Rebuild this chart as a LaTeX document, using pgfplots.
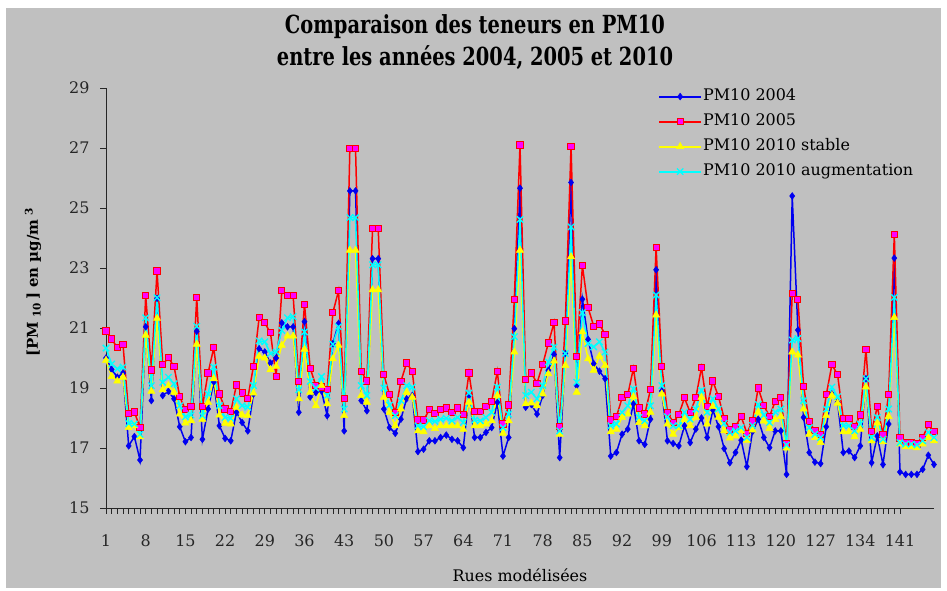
\documentclass[border=0pt]{standalone}
\usepackage{pgfplots}
\pgfplotsset{compat=1.18}
\usepackage{pgfplotstable}
\usepackage{fontspec}
\setmainfont{DejaVu Serif}
\newfontfamily\titlefont[FakeStretch=0.78]{DejaVu Serif}
\definecolor{bgc}{RGB}{192,192,192}
\definecolor{cb}{RGB}{0,0,240}
\definecolor{cr}{RGB}{255,0,0}
\definecolor{cm}{RGB}{255,0,255}
\definecolor{cy}{RGB}{255,255,0}
\definecolor{cc}{RGB}{0,255,255}
\pgfplotstableread{
i b r y c
1 20.0 20.9 19.92 20.33
2 19.62 20.63 19.38 19.8
3 19.36 20.34 19.23 19.64
4 19.5 20.45 19.36 19.7
5 17.07 18.15 17.68 17.82
6 17.38 18.2 17.74 17.8
7 16.6 17.68 17.37 17.46
8 21.04 22.08 20.76 21.34
9 18.58 19.6 18.89 19.08
10 21.99 22.9 21.32 22.01
11 18.75 19.78 18.94 19.19
12 18.89 20.01 19.08 19.36
13 18.64 19.72 18.86 19.14
14 17.71 18.71 18.13 18.41
15 17.21 18.27 17.83 18.04
16 17.35 18.38 17.91 18.1
17 20.89 22.01 20.46 21.06
18 17.29 18.38 17.96 18.08
19 18.3 19.5 18.52 18.8
20 19.2 20.34 19.31 19.7
21 17.74 18.8 18.1 18.41
22 17.32 18.3 17.82 18.02
23 17.24 18.21 17.8 17.99
24 18.19 19.1 18.36 18.64
25 17.85 18.83 18.1 18.41
26 17.57 18.66 18.08 18.36
27 18.8 19.72 18.83 19.08
28 20.31 21.34 20.06 20.57
29 20.2 21.17 20.0 20.54
30 19.83 20.84 19.61 20.15
31 20.0 19.38 19.72 20.2
32 21.17 22.24 20.42 20.92
33 21.04 22.08 20.73 21.34
34 21.04 22.08 20.73 21.38
35 18.19 19.22 18.64 18.94
36 21.21 21.79 20.29 20.87
37 18.7 19.66 18.86 19.22
38 18.85 19.08 18.41 19.0
39 18.9 19.03 19.08 19.38
40 18.08 18.94 18.47 18.75
41 20.48 21.51 19.97 20.46
42 21.15 22.24 20.42 21.04
43 17.57 18.66 18.08 18.3
44 25.57 26.99 23.59 24.68
45 25.57 26.99 23.59 24.68
46 18.58 19.56 18.75 19.08
47 18.24 19.23 18.52 18.75
48 23.31 24.31 22.27 23.11
49 23.31 24.31 22.27 23.11
50 18.3 19.44 18.69 19.0
51 17.68 18.77 18.19 18.43
52 17.49 18.19 17.74 18.08
53 17.96 19.22 18.3 18.58
54 18.64 19.83 18.86 19.08
55 18.75 19.56 18.69 19.03
56 16.88 17.93 17.57 17.74
57 16.96 17.93 17.54 17.71
58 17.24 18.27 17.74 17.91
59 17.24 18.15 17.65 17.89
60 17.35 18.27 17.74 17.96
61 17.43 18.33 17.74 17.99
62 17.29 18.19 17.74 17.91
63 17.24 18.33 17.74 18.02
64 17.01 18.11 17.62 17.85
65 18.75 19.5 18.52 18.83
66 17.35 18.21 17.74 17.93
67 17.35 18.21 17.74 17.91
68 17.52 18.38 17.8 18.02
69 17.68 18.55 17.91 18.19
70 18.52 19.55 18.75 19.03
71 16.73 17.8 17.49 17.68
72 17.35 18.43 17.91 18.13
73 20.98 21.96 20.2 20.71
74 25.66 27.1 23.59 24.62
75 18.36 19.28 18.47 18.75
76 18.45 19.5 18.5 18.86
77 18.13 19.16 18.41 18.64
78 18.75 19.78 18.8 19.08
79 19.59 20.5 19.47 19.87
80 20.12 21.17 19.9 20.37
81 16.68 17.71 17.46 17.57
82 20.15 21.23 19.75 20.15
83 25.85 27.05 23.37 24.37
84 19.08 20.06 18.86 19.19
85 21.96 23.08 20.87 21.51
86 20.62 21.68 19.97 20.48
87 19.81 21.06 19.59 20.37
88 19.56 21.13 20.06 20.54
89 19.31 20.79 19.75 20.2
90 16.73 17.93 17.54 17.74
91 16.85 18.04 17.62 17.8
92 17.46 18.67 18.02 18.19
93 17.63 18.77 18.13 18.41
94 18.47 19.66 18.71 18.97
95 17.24 18.33 17.85 18.02
96 17.12 18.13 17.74 17.91
97 17.96 18.94 18.19 18.41
98 22.94 23.69 21.43 22.1
99 18.9 19.72 18.8 19.08
100 17.24 18.19 17.8 18.04
101 17.15 17.85 17.46 17.74
102 17.07 18.11 17.68 17.74
103 17.74 18.67 17.96 18.19
104 17.18 18.19 17.74 17.96
105 17.63 18.67 18.02 18.3
106 18.0 19.68 18.69 18.92
107 17.35 18.38 17.8 18.19
108 18.27 19.23 18.38 18.64
109 17.71 18.71 18.02 18.3
110 16.98 17.99 17.57 17.82
111 16.51 17.6 17.33 17.52
112 16.85 17.72 17.4 17.57
113 17.26 18.05 17.57 17.68
114 16.38 17.49 17.26 17.35
115 17.55 17.9 17.6 17.75
116 17.96 19.0 18.2 18.45
117 17.35 18.41 17.9 18.1
118 17.01 18.05 17.65 17.85
119 17.57 18.56 17.95 18.2
120 17.57 18.67 18.05 18.3
121 16.12 17.15 17.0 17.1
122 25.4 22.14 20.2 20.6
123 20.93 21.96 20.1 20.65
124 18.02 19.06 18.3 18.58
125 16.85 17.88 17.46 17.68
126 16.53 17.57 17.35 17.46
127 16.48 17.46 17.18 17.35
128 17.71 18.77 18.08 18.3
129 18.8 19.78 18.75 19.03
130 18.52 19.44 18.49 18.71
131 16.85 17.99 17.54 17.74
132 16.9 17.99 17.54 17.74
133 16.68 17.71 17.37 17.57
134 17.07 18.1 17.62 17.8
135 19.31 20.29 19.03 19.31
136 16.51 17.54 17.24 17.35
137 17.4 18.38 17.83 18.02
138 16.45 17.46 17.21 17.29
139 17.8 18.77 18.05 18.3
140 23.33 24.12 21.35 22.02
141 16.2 17.33 17.13 17.18
142 16.12 17.18 17.04 17.13
143 16.12 17.18 17.04 17.13
144 16.12 17.13 17.01 17.1
145 16.29 17.35 17.13 17.24
146 16.76 17.77 17.35 17.52
147 16.45 17.54 17.24 17.35
}\data

\begin{document}
\begin{tikzpicture}
\fill[white] (0bp,0bp) rectangle (947bp,591bp);
\fill[bgc] (6bp,3bp) rectangle (941bp,583bp);
\node[font=\titlefont\bfseries\fontsize{25}{25}\selectfont] at (475bp,564bp) {Comparaison des teneurs en PM10};
\node[font=\titlefont\bfseries\fontsize{25}{25}\selectfont] at (475bp,533bp) {entre les années 2004, 2005 et 2010};
\begin{axis}[
  at={(106bp,83bp)}, anchor=south west,
  scale only axis, width=828bp, height=420bp,
  xmin=1, xmax=147, ymin=15, ymax=29,
  axis lines=left, axis line style={-, black!85, line width=0.9bp},
  xtick={1,8,...,141}, minor x tick num=6,
  ytick={15,17,...,29},
  tick align=outside, major tick length=6bp, minor tick length=6bp,
  tick style={black!85, line width=0.7bp},
  /pgf/number format/assume math mode=true,
  tick label style={font=\fontsize{16}{16}\selectfont, text=black!85},
  yticklabel style={xshift=-7bp},
  xticklabel style={yshift=-17bp},
  xlabel={Rues modélisées},
  xlabel style={at={(axis description cs:0.5,-0.1595)}, anchor=center, font=\fontsize{16}{16}\selectfont},
  ylabel={[PM\;\textsubscript{10}\,] en µg/m\;\textsuperscript{3}},
  ylabel style={at={(axis description cs:-0.0882,0.538)}, anchor=center, font=\bfseries\fontsize{15}{15}\selectfont},
  legend cell align=left,
  legend style={at={(axis description cs:0.663,1.005)}, anchor=north west, draw=none, fill=none,
    font=\fontsize{16}{16}\selectfont, row sep=8bp,
    nodes={inner sep=1bp, text height=11.5bp, text depth=3.5bp}},
  legend image code/.code={\draw[line width=2bp, mark repeat=2,mark phase=2] plot coordinates {(0bp,0bp) (21bp,0bp) (42bp,0bp)};},
  every axis plot/.append style={line width=1.5bp},
  clip=false,
]
\addplot[cb, mark=diamond*, mark size=3.4bp, mark options={fill=cb, line width=0.5bp}] table[x=i,y=b] {\data};
\addplot[cr, mark=square*, mark size=3.1bp, mark options={fill=cm, draw=cr, line width=1bp}] table[x=i,y=r] {\data};
\addplot[cy, mark=triangle*, mark size=4.2bp, mark options={fill=cy, line width=0.5bp}] table[x=i,y=y] {\data};
\addplot[cc, mark=x, mark size=4.5bp, mark options={line width=1.3bp}] table[x=i,y=c] {\data};
\legend{PM10 2004, PM10 2005, PM10 2010 stable, PM10 2010 augmentation}
\end{axis}
\end{tikzpicture}
\end{document}
